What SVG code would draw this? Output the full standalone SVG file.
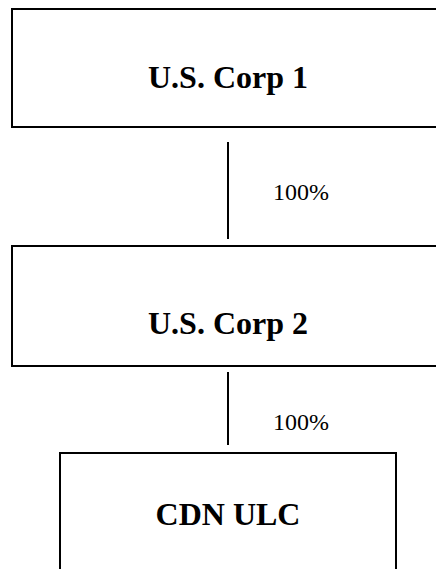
<svg xmlns="http://www.w3.org/2000/svg" width="436" height="569" viewBox="0 0 436 569">
<style>
.box{fill:#fff;stroke:#000;stroke-width:2}
.t{font-family:"Liberation Serif",serif;font-weight:bold;font-size:32px;text-anchor:middle;fill:#000}
.lbl{font-family:"Liberation Serif",serif;font-size:24px;fill:#000}
.c{stroke:#000;stroke-width:2}
</style>
<rect width="436" height="569" fill="#fff"/>
<g id="corp1"><rect class="box" x="12" y="9" width="432" height="118"/><text class="t" x="228" y="88">U.S. Corp 1</text></g>
<g id="corp2"><rect class="box" x="12" y="246" width="432" height="120"/><text class="t" x="228" y="334">U.S. Corp 2</text></g>
<g id="cdn"><rect class="box" x="60" y="453" width="336" height="130"/><text class="t" x="228" y="525">CDN ULC</text></g>
<g id="connectors">
<line class="c" x1="228" y1="142" x2="228" y2="239"/>
<text class="lbl" x="273" y="200">100%</text>
<line class="c" x1="228" y1="372" x2="228" y2="445"/>
<text class="lbl" x="273" y="430">100%</text>
</g>
</svg>
